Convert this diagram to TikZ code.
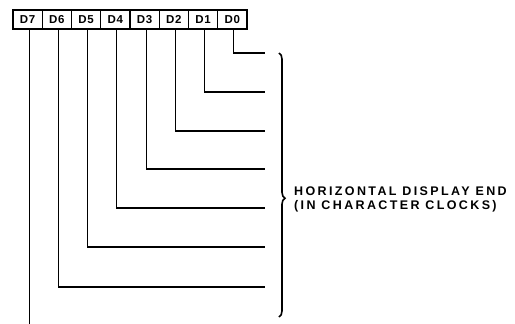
\documentclass[tikz,border=0pt]{standalone}
\usepackage{fontspec}
\setmainfont{Liberation Sans}
\newfontfamily\lblfont[LetterSpace=19]{Liberation Sans}
\newfontfamily\boxfont[LetterSpace=6]{Liberation Sans}
\usetikzlibrary{decorations.pathreplacing}
\begin{document}
\begin{tikzpicture}[x=1pt,y=-1pt,
  bitbox/.style={draw,line width=1.2pt,minimum width=29.25pt,minimum height=19pt,inner sep=0pt,font=\boxfont\fontsize{11.5}{12}\selectfont\bfseries},
  wire/.style={line width=1.2pt},
  bracestyle/.style={line width=1.6pt,decorate,decoration={brace,amplitude=6pt,aspect=0.55}}]
\useasboundingbox (0,0) rectangle (515,324);
\foreach \lab [count=\i from 0] in {D7,D6,D5,D4,D3,D2,D1,D0}{
  \node[bitbox] (b\i) at ({13+29.25*\i+14.625},19.5) {\lab};
}
% end coordinates
\coordinate (e7) at (265,53);
\coordinate (e6) at (265,92);
\coordinate (e5) at (265,131);
\coordinate (e4) at (265,169);
\coordinate (e3) at (265,208);
\coordinate (e2) at (265,247);
\coordinate (e1) at (265,287);
\coordinate (e0) at (31,324);
\foreach \i in {1,...,7}{
  \draw[wire] ([xshift=1.5pt]b\i.south) |- (e\i);
}
\draw[wire] ([xshift=1.5pt]b0.south) -- ([xshift=1.5pt]b0.south |- e0);
\coordinate (bt) at (279,53);
\coordinate (bb) at (279,317);
\draw[bracestyle] (bt) -- (bb);
\node[anchor=west,align=left,inner sep=0pt,font=\lblfont\fontsize{12.5}{14}\selectfont\bfseries] (lbl) at (294,199.5)
  {HORIZONTAL DISPLAY END\\(IN CHARACTER CLOCKS)};
\end{tikzpicture}
\end{document}
